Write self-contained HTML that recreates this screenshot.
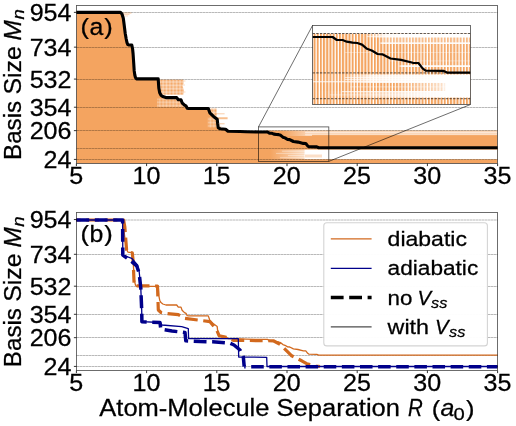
<!DOCTYPE html>
<html><head><meta charset="utf-8"><title>Basis size vs atom-molecule separation</title>
<style>html,body{margin:0;padding:0;background:#fff}svg{display:block;will-change:transform}text{font-family:"Liberation Sans",sans-serif;fill:#000;stroke:#000;stroke-width:0.25px}</style>
</head><body>
<svg width="516" height="426" viewBox="0 0 516 426">
<rect width="516" height="426" fill="#fff"/>
<clipPath id="ct"><rect x="76.5" y="5.5" width="421.0" height="158.0"/></clipPath>
<defs>
<linearGradient id="g1" x1="283" x2="312" y1="0" y2="0" gradientUnits="userSpaceOnUse"><stop offset="0" stop-color="#fff" stop-opacity="0"/><stop offset="0.75" stop-color="#fff" stop-opacity="0.45"/><stop offset="0.8" stop-color="#fff" stop-opacity="0.55"/><stop offset="1" stop-color="#fff" stop-opacity="0.55"/></linearGradient>
<linearGradient id="g2" x1="270" x2="318" y1="0" y2="0" gradientUnits="userSpaceOnUse"><stop offset="0" stop-color="#fff" stop-opacity="0"/><stop offset="0.7" stop-color="#fff" stop-opacity="0.6"/><stop offset="0.74" stop-color="#fff" stop-opacity="1"/><stop offset="1" stop-color="#fff" stop-opacity="1"/></linearGradient>
</defs>
<g clip-path="url(#ct)">
<polygon points="76.4,12.4 120.5,12.4 122.0,14.0 123.3,18.2 124.3,26.0 125.2,33.2 126.2,39.0 127.0,42.7 127.8,44.6 129.0,45.0 131.8,45.0 132.6,49.0 133.1,54.0 133.7,63.0 134.2,70.9 134.8,75.0 135.5,77.6 136.5,78.9 158.2,78.9 158.8,88.0 159.7,92.8 161.0,95.2 162.8,96.6 165.9,97.6 176.7,97.6 178.3,99.7 181.0,99.7 182.1,102.8 184.5,105.2 186.0,105.9 187.2,108.3 188.5,108.5 208.3,108.5 209.8,112.8 213.8,116.7 217.2,119.2 217.7,124.0 218.2,127.6 220.2,128.8 225.6,129.2 228.0,131.2 240.0,131.5 246.0,131.7 258.7,132.0 266.7,130.6 497.6,130.6 497.6,163.6 76.4,163.6" fill="#F4A460"/>
<pattern id="hx" x="0" y="0" width="1.42" height="1.42" patternUnits="userSpaceOnUse"><rect width="1.42" height="1.42" fill="#F4A460"/><rect x="0" y="0" width="1.42" height="0.38" fill="#fff" fill-opacity="0.75"/><rect x="0" y="0" width="0.38" height="1.42" fill="#fff" fill-opacity="0.75"/></pattern>
<polygon points="158.5,79.4 183.2,79.4 183.8,83 182.6,86 184,90 183.4,94.7 160,94.7" fill="url(#hx)"/>
<polygon points="208.5,108.4 216.7,108.4 216.7,118 214,116 210,112" fill="url(#hx)"/>
<line x1="120.5" x2="131.5" y1="13.0" y2="13.0" stroke="#F4A460" stroke-opacity="0.7" stroke-width="0.9"/>
<line x1="122" x2="129.5" y1="14.6" y2="14.6" stroke="#F4A460" stroke-opacity="0.55" stroke-width="0.8"/>
<line x1="123" x2="128" y1="16.0" y2="16.0" stroke="#F4A460" stroke-opacity="0.4" stroke-width="0.8"/>
<line x1="216" x2="224.6" y1="113.8" y2="113.8" stroke="#F4A460" stroke-opacity="0.6" stroke-width="0.9"/>
<line x1="216" x2="227.6" y1="118.3" y2="118.3" stroke="#F4A460" stroke-opacity="0.7" stroke-width="2.0"/>
<line x1="218" x2="224.6" y1="123.8" y2="123.8" stroke="#F4A460" stroke-opacity="0.6" stroke-width="1.0"/>
<line x1="218" x2="221.5" y1="126.4" y2="126.4" stroke="#F4A460" stroke-opacity="0.5" stroke-width="0.8"/>
<line x1="183" x2="185.5" y1="81" y2="81" stroke="#F4A460" stroke-opacity="0.5" stroke-width="0.8"/>
<line x1="183" x2="185" y1="85" y2="85" stroke="#F4A460" stroke-opacity="0.5" stroke-width="0.8"/>
<line x1="183" x2="185.5" y1="92" y2="92" stroke="#F4A460" stroke-opacity="0.5" stroke-width="0.8"/>
<pattern id="hy" x="0" y="0" width="1.42" height="1.42" patternUnits="userSpaceOnUse"><rect width="1.42" height="1.42" fill="#F4A460"/><rect x="0" y="0" width="1.42" height="0.36" fill="#fff" fill-opacity="0.6"/><rect x="0" y="0" width="0.36" height="1.42" fill="#fff" fill-opacity="0.6"/></pattern>
<polygon points="157,98.5 176.5,98.5 179,100.8 181.7,102.2 183,104.3 184.5,106.5 185,107 157,107" fill="url(#hy)"/>
<polygon points="207.8,117 215,117 216.5,119 217.3,127.6 207.8,127.6" fill="url(#hy)"/>
<rect x="283" y="130.6" width="29" height="5.4" fill="url(#g1)"/>
<rect x="312" y="130.6" width="186" height="4.2" fill="#fff" fill-opacity="0.55"/>
<rect x="270" y="149.6" width="48" height="9.6" fill="url(#g2)"/>
<rect x="318" y="149.6" width="180" height="9.6" fill="#fff"/>
<line x1="305" x2="498" y1="132.6" y2="132.6" stroke="#fff" stroke-opacity="0.6" stroke-width="0.8"/>
<line x1="305" x2="498" y1="134.7" y2="134.7" stroke="#fff" stroke-opacity="0.55" stroke-width="0.8"/>
<line x1="282" x2="318" y1="151.2" y2="151.2" stroke="#fff" stroke-opacity="0.5" stroke-width="0.8"/>
<line x1="276" x2="318" y1="153.4" y2="153.4" stroke="#fff" stroke-opacity="0.45" stroke-width="0.8"/>
<line x1="288" x2="318" y1="155.6" y2="155.6" stroke="#fff" stroke-opacity="0.5" stroke-width="0.8"/>
<line x1="280" x2="318" y1="157.6" y2="157.6" stroke="#fff" stroke-opacity="0.4" stroke-width="0.8"/>
<line x1="305" x2="322" y1="156" y2="156" stroke="#F4A460" stroke-opacity="0.35" stroke-width="3"/>
</g>
<line x1="76.5" x2="497.5" y1="12.5" y2="12.5" stroke="#000" stroke-opacity="0.5" stroke-width="0.55" stroke-dasharray="2.65 0.35"/>
<line x1="76.5" x2="497.5" y1="47.5" y2="47.5" stroke="#000" stroke-opacity="0.5" stroke-width="0.55" stroke-dasharray="2.65 0.35"/>
<line x1="76.5" x2="497.5" y1="79.5" y2="79.5" stroke="#000" stroke-opacity="0.5" stroke-width="0.55" stroke-dasharray="2.65 0.35"/>
<line x1="76.5" x2="497.5" y1="107.5" y2="107.5" stroke="#000" stroke-opacity="0.5" stroke-width="0.55" stroke-dasharray="2.65 0.35"/>
<line x1="76.5" x2="497.5" y1="130.5" y2="130.5" stroke="#000" stroke-opacity="0.5" stroke-width="0.55" stroke-dasharray="2.65 0.35"/>
<line x1="76.5" x2="497.5" y1="148.5" y2="148.5" stroke="#000" stroke-opacity="0.5" stroke-width="0.55" stroke-dasharray="2.65 0.35"/>
<line x1="76.5" x2="497.5" y1="159.5" y2="159.5" stroke="#000" stroke-opacity="0.5" stroke-width="0.55" stroke-dasharray="2.65 0.35"/>
<polyline points="76.4,12.4 120.5,12.4 122.0,14.0 123.3,18.2 124.3,26.0 125.2,33.2 126.2,39.0 127.0,42.7 127.8,44.6 129.0,45.0 131.8,45.0 132.6,49.0 133.1,54.0 133.7,63.0 134.2,70.9 134.8,75.0 135.5,77.6 136.5,78.9 158.2,78.9 158.8,88.0 159.7,92.8 161.0,95.2 162.8,96.6 165.9,97.6 176.7,97.6 178.3,99.7 181.0,99.7 182.1,102.8 184.5,105.2 186.0,105.9 187.2,108.3 188.5,108.5 208.3,108.5 209.8,112.8 213.8,116.7 217.2,119.2 217.7,124.0 218.2,127.6 220.2,128.8 225.6,129.2 228.0,131.2 240.0,131.5 246.0,131.7 258.7,132.0 267.6,132.0 269.5,133.3 272.1,133.3 273.9,134.1 276.5,134.5 278.6,134.6 280.7,135.3 282.9,137.2 285.0,137.9 287.6,139.5 289.7,139.6 293.4,141.5 298.0,142.1 303.3,143.4 305.8,143.5 307.7,145.9 309.0,146.8 316.8,146.9 318.7,147.7 328.9,147.7 497.6,147.7" fill="none" stroke="#000" stroke-width="3.1" stroke-linejoin="round"/>
<rect x="258.5" y="126.9" width="70.3" height="34.5" fill="none" stroke="#000" stroke-opacity="0.68" stroke-width="0.85"/>
<line x1="258.5" y1="126.9" x2="312.5" y2="25.5" stroke="#000" stroke-opacity="0.68" stroke-width="0.85"/>
<line x1="328.8" y1="161.4" x2="470.5" y2="104.5" stroke="#000" stroke-opacity="0.68" stroke-width="0.85"/>
<clipPath id="ci"><rect x="312.5" y="25.5" width="158.0" height="79.0"/></clipPath>
<pattern id="st" x="313.55" y="0" width="3.176" height="10" patternUnits="userSpaceOnUse"><rect x="0" y="0" width="2.0" height="10" fill="#F4A460"/></pattern>
<rect x="312.5" y="25.5" width="158.0" height="79.0" fill="#fff"/>
<g clip-path="url(#ci)">
<rect x="312.5" y="33.6" width="158.0" height="70.9" fill="url(#st)"/>
<linearGradient id="bA" x1="313" x2="471" y1="0" y2="0" gradientUnits="userSpaceOnUse"><stop offset="0.000" stop-color="#fff" stop-opacity="0"/><stop offset="0.329" stop-color="#fff" stop-opacity="0"/><stop offset="0.456" stop-color="#fff" stop-opacity="0.9"/><stop offset="0.551" stop-color="#fff" stop-opacity="1"/><stop offset="1.000" stop-color="#fff" stop-opacity="1"/></linearGradient>
<rect x="312.5" y="33.9" width="158.0" height="3.70" fill="url(#bA)"/>
<linearGradient id="bB" x1="313" x2="471" y1="0" y2="0" gradientUnits="userSpaceOnUse"><stop offset="0.000" stop-color="#fff" stop-opacity="0"/><stop offset="0.424" stop-color="#fff" stop-opacity="0"/><stop offset="0.449" stop-color="#fff" stop-opacity="0.3"/><stop offset="1.000" stop-color="#fff" stop-opacity="0.25"/></linearGradient>
<rect x="312.5" y="37.6" width="158.0" height="4.70" fill="url(#bB)"/>
<linearGradient id="bC" x1="313" x2="471" y1="0" y2="0" gradientUnits="userSpaceOnUse"><stop offset="0.000" stop-color="#fff" stop-opacity="0"/><stop offset="0.418" stop-color="#fff" stop-opacity="0"/><stop offset="0.437" stop-color="#fff" stop-opacity="0.9"/><stop offset="1.000" stop-color="#fff" stop-opacity="0.95"/></linearGradient>
<rect x="312.5" y="42.3" width="158.0" height="1.70" fill="url(#bC)"/>
<linearGradient id="bD" x1="313" x2="471" y1="0" y2="0" gradientUnits="userSpaceOnUse"><stop offset="0.000" stop-color="#fff" stop-opacity="0"/><stop offset="0.551" stop-color="#fff" stop-opacity="0"/><stop offset="0.677" stop-color="#fff" stop-opacity="0.08"/><stop offset="1.000" stop-color="#fff" stop-opacity="0.08"/></linearGradient>
<rect x="312.5" y="44.0" width="158.0" height="21.20" fill="url(#bD)"/>
<linearGradient id="bE" x1="313" x2="471" y1="0" y2="0" gradientUnits="userSpaceOnUse"><stop offset="0.000" stop-color="#fff" stop-opacity="0"/><stop offset="0.538" stop-color="#fff" stop-opacity="0"/><stop offset="0.563" stop-color="#fff" stop-opacity="0.9"/><stop offset="1.000" stop-color="#fff" stop-opacity="0.95"/></linearGradient>
<rect x="312.5" y="65.2" width="158.0" height="1.80" fill="url(#bE)"/>
<linearGradient id="bG" x1="313" x2="471" y1="0" y2="0" gradientUnits="userSpaceOnUse"><stop offset="0.000" stop-color="#fff" stop-opacity="0.05"/><stop offset="0.203" stop-color="#fff" stop-opacity="0.1"/><stop offset="0.373" stop-color="#fff" stop-opacity="0.8"/><stop offset="0.551" stop-color="#fff" stop-opacity="0.9"/><stop offset="0.835" stop-color="#fff" stop-opacity="1"/><stop offset="1.000" stop-color="#fff" stop-opacity="1"/></linearGradient>
<rect x="312.5" y="74.5" width="158.0" height="8.50" fill="url(#bG)"/>
<linearGradient id="bH" x1="313" x2="471" y1="0" y2="0" gradientUnits="userSpaceOnUse"><stop offset="0.000" stop-color="#fff" stop-opacity="0"/><stop offset="0.519" stop-color="#fff" stop-opacity="0.0"/><stop offset="0.677" stop-color="#fff" stop-opacity="0.35"/><stop offset="0.823" stop-color="#fff" stop-opacity="0.65"/><stop offset="0.842" stop-color="#fff" stop-opacity="1"/><stop offset="1.000" stop-color="#fff" stop-opacity="1"/></linearGradient>
<rect x="312.5" y="83.0" width="158.0" height="8.00" fill="url(#bH)"/>
<linearGradient id="bI" x1="313" x2="471" y1="0" y2="0" gradientUnits="userSpaceOnUse"><stop offset="0.000" stop-color="#fff" stop-opacity="0"/><stop offset="0.184" stop-color="#fff" stop-opacity="0.1"/><stop offset="0.424" stop-color="#fff" stop-opacity="0.5"/><stop offset="0.677" stop-color="#fff" stop-opacity="0.9"/><stop offset="0.835" stop-color="#fff" stop-opacity="1"/><stop offset="1.000" stop-color="#fff" stop-opacity="1"/></linearGradient>
<rect x="312.5" y="91.0" width="158.0" height="6.60" fill="url(#bI)"/>
<rect x="313" y="81.3" width="158" height="0.9" fill="#fff" fill-opacity="0.9"/>
<rect x="342" y="91.2" width="129" height="0.9" fill="#fff" fill-opacity="0.8"/>
<rect x="345" y="77.2" width="126" height="0.8" fill="#fff" fill-opacity="0.7"/>
<rect x="345" y="79.2" width="126" height="0.8" fill="#fff" fill-opacity="0.7"/>
<rect x="350" y="86.5" width="121" height="0.8" fill="#fff" fill-opacity="0.5"/>
<rect x="330" y="94.5" width="141" height="0.8" fill="#fff" fill-opacity="0.5"/>
<rect x="345" y="52" width="126" height="0.8" fill="#fff" fill-opacity="0.4"/>
<rect x="390" y="60.5" width="81" height="0.8" fill="#fff" fill-opacity="0.4"/>
<rect x="367" y="36.2" width="104" height="0.8" fill="#fff" fill-opacity="0.6"/>
<line x1="312.5" x2="470.5" y1="33.50" y2="33.50" stroke="#000" stroke-opacity="0.7" stroke-width="0.9" stroke-dasharray="2.4 1.3"/>
<line x1="312.5" x2="470.5" y1="72.90" y2="72.90" stroke="#000" stroke-opacity="0.7" stroke-width="0.9" stroke-dasharray="2.4 1.3"/>
<line x1="312.5" x2="470.5" y1="98.69" y2="98.69" stroke="#000" stroke-opacity="0.7" stroke-width="0.9" stroke-dasharray="2.4 1.3"/>
<polyline points="312.5,37.0 332.6,37.0 336.8,40.0 342.6,40.0 346.7,41.7 352.6,42.7 357.3,43.0 362.0,44.6 367.0,48.8 371.7,50.5 377.6,54.0 382.3,54.3 390.5,58.5 401.0,59.9 412.8,62.8 418.4,63.0 422.8,68.6 425.7,70.6 443.3,70.8 447.5,72.7 470.5,72.7" fill="none" stroke="#000" stroke-width="2.2" stroke-linejoin="round"/>
</g>
<rect x="312.5" y="25.5" width="158.0" height="79.0" fill="none" stroke="#000" stroke-opacity="0.68" stroke-width="0.85"/>
<rect x="76.5" y="5.5" width="421.0" height="158.0" fill="none" stroke="#000" stroke-opacity="0.68" stroke-width="0.85"/>
<line x1="76.5" x2="497.5" y1="220.0" y2="220.0" stroke="#000" stroke-opacity="0.5" stroke-width="0.55" stroke-dasharray="2.65 0.35"/>
<line x1="76.5" x2="497.5" y1="254.5" y2="254.5" stroke="#000" stroke-opacity="0.5" stroke-width="0.55" stroke-dasharray="2.65 0.35"/>
<line x1="76.5" x2="497.5" y1="286.5" y2="286.5" stroke="#000" stroke-opacity="0.5" stroke-width="0.55" stroke-dasharray="2.65 0.35"/>
<line x1="76.5" x2="497.5" y1="314.5" y2="314.5" stroke="#000" stroke-opacity="0.5" stroke-width="0.55" stroke-dasharray="2.65 0.35"/>
<line x1="76.5" x2="497.5" y1="337.5" y2="337.5" stroke="#000" stroke-opacity="0.5" stroke-width="0.55" stroke-dasharray="2.65 0.35"/>
<line x1="76.5" x2="497.5" y1="355.5" y2="355.5" stroke="#000" stroke-opacity="0.5" stroke-width="0.55" stroke-dasharray="2.65 0.35"/>
<line x1="76.5" x2="497.5" y1="366.5" y2="366.5" stroke="#000" stroke-opacity="0.5" stroke-width="0.55" stroke-dasharray="2.65 0.35"/>
<polyline points="76.4,220.0 123.6,220.0 124.8,226.7 126.6,250.0 127.5,252.3 132.3,252.8 133.2,262.0 134.2,285.8 157.5,286.0 158.3,310.0 161.0,312.5 165.8,313.5 178.3,314.7 185.0,318.3 200.0,320.3 210.0,321.7 216.7,330.0 219.2,335.8 226.7,337.5 233.3,340.3 273.3,340.8 280.0,344.2 286.7,350.8 291.7,355.8 301.7,360.8 306.7,363.7 315.8,366.0 320.0,366.5" fill="none" stroke="#D2691E" stroke-width="3.2" stroke-dasharray="12.8 5.6" stroke-dashoffset="8.6" stroke-linejoin="round"/>
<polyline points="76.4,219.8 120.5,219.8 122.0,221.4 123.3,225.6 124.3,233.4 125.2,240.6 126.2,246.4 127.0,250.1 127.8,252.0 129.0,252.4 131.8,252.4 132.6,256.4 133.1,261.4 133.7,270.4 134.2,278.3 134.8,282.4 135.5,285.0 136.5,286.3 158.2,286.3 158.8,295.4 159.7,300.2 161.0,302.6 162.8,304.0 165.9,305.0 176.7,305.0 178.3,307.1 181.0,307.1 182.1,310.2 184.5,312.6 186.0,313.3 187.2,315.7 188.5,315.9 208.3,315.9 209.8,320.2 213.8,324.1 217.2,326.6 217.7,331.4 218.2,335.0 220.2,336.2 225.6,336.6 228.0,338.6 240.0,338.9 246.0,339.1 258.7,339.4 267.6,339.4 269.5,340.7 272.1,340.7 273.9,341.5 276.5,341.9 278.6,342.0 280.7,342.7 282.9,344.6 285.0,345.3 287.6,346.9 289.7,347.0 293.4,348.9 298.0,349.5 303.3,350.8 305.8,350.9 307.7,353.3 309.0,354.2 316.8,354.3 318.7,355.1 328.9,355.1 497.6,355.1" fill="none" stroke="#D2691E" stroke-width="1.3" stroke-linejoin="round"/>
<polyline points="76.4,220.0 122.6,220.0 122.8,255.0 130.8,260.8 136.7,265.8 139.2,273.3 140.8,288.3 141.7,310.0 141.9,321.7 160.0,322.5 160.8,329.2 172.0,331.0 185.0,332.5 185.8,340.8 200.0,341.5 212.5,341.8 230.0,343.3 234.0,345.0 240.0,350.0 243.3,356.7 244.2,366.5" fill="none" stroke="#00008B" stroke-width="3.5" stroke-dasharray="12.8 5.6" stroke-linejoin="round"/>
<line x1="244.2" x2="497.5" y1="366.7" y2="366.7" stroke="#00008B" stroke-width="3.6" stroke-dasharray="12.55 5.58" stroke-dashoffset="11.13"/>
<polyline points="76.4,220.0 122.6,220.0 122.8,255.0 131.7,258.3 137.5,265.0 139.2,271.7 140.8,288.3 141.7,310.0 141.9,321.7 160.0,322.5 162.0,325.0 181.7,326.7 188.3,328.7 188.6,338.5 238.3,338.7 238.7,357.0 266.7,357.3 267.0,366.5 497.6,366.5" fill="none" stroke="#00008B" stroke-width="1.3" stroke-linejoin="round"/>
<rect x="76.5" y="212.5" width="421.0" height="158.0" fill="none" stroke="#000" stroke-opacity="0.68" stroke-width="0.85"/>
<line x1="73.9" x2="76.5" y1="12.37" y2="12.37" stroke="#000" stroke-width="0.8"/>
<line x1="73.9" x2="76.5" y1="47.15" y2="47.15" stroke="#000" stroke-width="0.8"/>
<line x1="73.9" x2="76.5" y1="79.09" y2="79.09" stroke="#000" stroke-width="0.8"/>
<line x1="73.9" x2="76.5" y1="107.23" y2="107.23" stroke="#000" stroke-width="0.8"/>
<line x1="73.9" x2="76.5" y1="130.63" y2="130.63" stroke="#000" stroke-width="0.8"/>
<line x1="73.9" x2="76.5" y1="159.41" y2="159.41" stroke="#000" stroke-width="0.8"/>
<line x1="76.40" x2="76.40" y1="163.5" y2="166.1" stroke="#000" stroke-width="0.8"/>
<line x1="146.60" x2="146.60" y1="163.5" y2="166.1" stroke="#000" stroke-width="0.8"/>
<line x1="216.80" x2="216.80" y1="163.5" y2="166.1" stroke="#000" stroke-width="0.8"/>
<line x1="287.00" x2="287.00" y1="163.5" y2="166.1" stroke="#000" stroke-width="0.8"/>
<line x1="357.20" x2="357.20" y1="163.5" y2="166.1" stroke="#000" stroke-width="0.8"/>
<line x1="427.40" x2="427.40" y1="163.5" y2="166.1" stroke="#000" stroke-width="0.8"/>
<line x1="497.60" x2="497.60" y1="163.5" y2="166.1" stroke="#000" stroke-width="0.8"/>
<line x1="73.9" x2="76.5" y1="219.56" y2="219.56" stroke="#000" stroke-width="0.8"/>
<line x1="73.9" x2="76.5" y1="254.30" y2="254.30" stroke="#000" stroke-width="0.8"/>
<line x1="73.9" x2="76.5" y1="286.20" y2="286.20" stroke="#000" stroke-width="0.8"/>
<line x1="73.9" x2="76.5" y1="314.30" y2="314.30" stroke="#000" stroke-width="0.8"/>
<line x1="73.9" x2="76.5" y1="337.67" y2="337.67" stroke="#000" stroke-width="0.8"/>
<line x1="73.9" x2="76.5" y1="366.41" y2="366.41" stroke="#000" stroke-width="0.8"/>
<line x1="76.40" x2="76.40" y1="370.5" y2="373.1" stroke="#000" stroke-width="0.8"/>
<line x1="146.60" x2="146.60" y1="370.5" y2="373.1" stroke="#000" stroke-width="0.8"/>
<line x1="216.80" x2="216.80" y1="370.5" y2="373.1" stroke="#000" stroke-width="0.8"/>
<line x1="287.00" x2="287.00" y1="370.5" y2="373.1" stroke="#000" stroke-width="0.8"/>
<line x1="357.20" x2="357.20" y1="370.5" y2="373.1" stroke="#000" stroke-width="0.8"/>
<line x1="427.40" x2="427.40" y1="370.5" y2="373.1" stroke="#000" stroke-width="0.8"/>
<line x1="497.60" x2="497.60" y1="370.5" y2="373.1" stroke="#000" stroke-width="0.8"/>
<text transform="translate(71.50,20.97) scale(1.13,1.05)" font-size="22.2" text-anchor="end">954</text>
<text transform="translate(71.50,55.75) scale(1.13,1.05)" font-size="22.2" text-anchor="end">734</text>
<text transform="translate(71.50,87.69) scale(1.13,1.05)" font-size="22.2" text-anchor="end">532</text>
<text transform="translate(71.50,115.83) scale(1.13,1.05)" font-size="22.2" text-anchor="end">354</text>
<text transform="translate(71.50,139.23) scale(1.13,1.05)" font-size="22.2" text-anchor="end">206</text>
<text transform="translate(71.50,168.01) scale(1.13,1.05)" font-size="22.2" text-anchor="end">24</text>
<text transform="translate(71.50,228.16) scale(1.13,1.05)" font-size="22.2" text-anchor="end">954</text>
<text transform="translate(71.50,262.90) scale(1.13,1.05)" font-size="22.2" text-anchor="end">734</text>
<text transform="translate(71.50,294.80) scale(1.13,1.05)" font-size="22.2" text-anchor="end">532</text>
<text transform="translate(71.50,322.90) scale(1.13,1.05)" font-size="22.2" text-anchor="end">354</text>
<text transform="translate(71.50,346.27) scale(1.13,1.05)" font-size="22.2" text-anchor="end">206</text>
<text transform="translate(71.50,375.01) scale(1.13,1.05)" font-size="22.2" text-anchor="end">24</text>
<text transform="translate(76.20,184.00) scale(1.13,1.04)" font-size="22.2" text-anchor="middle">5</text>
<text transform="translate(146.40,184.00) scale(1.13,1.04)" font-size="22.2" text-anchor="middle">10</text>
<text transform="translate(216.60,184.00) scale(1.13,1.04)" font-size="22.2" text-anchor="middle">15</text>
<text transform="translate(286.80,184.00) scale(1.13,1.04)" font-size="22.2" text-anchor="middle">20</text>
<text transform="translate(357.00,184.00) scale(1.13,1.04)" font-size="22.2" text-anchor="middle">25</text>
<text transform="translate(427.20,184.00) scale(1.13,1.04)" font-size="22.2" text-anchor="middle">30</text>
<text transform="translate(497.40,184.00) scale(1.13,1.04)" font-size="22.2" text-anchor="middle">35</text>
<text transform="translate(76.20,391.30) scale(1.13,1.04)" font-size="22.2" text-anchor="middle">5</text>
<text transform="translate(146.40,391.30) scale(1.13,1.04)" font-size="22.2" text-anchor="middle">10</text>
<text transform="translate(216.60,391.30) scale(1.13,1.04)" font-size="22.2" text-anchor="middle">15</text>
<text transform="translate(286.80,391.30) scale(1.13,1.04)" font-size="22.2" text-anchor="middle">20</text>
<text transform="translate(357.00,391.30) scale(1.13,1.04)" font-size="22.2" text-anchor="middle">25</text>
<text transform="translate(427.20,391.30) scale(1.13,1.04)" font-size="22.2" text-anchor="middle">30</text>
<text transform="translate(497.40,391.30) scale(1.13,1.04)" font-size="22.2" text-anchor="middle">35</text>
<text transform="translate(80.50,33.80) scale(1.15,1.0)" font-size="22.2" text-anchor="start">(</text>
<text transform="translate(89.40,35.00) scale(1.12,1.08)" font-size="22.2" text-anchor="start">a</text>
<text transform="translate(104.20,33.80) scale(1.15,1.0)" font-size="22.2" text-anchor="start">)</text>
<text transform="translate(80.50,241.00) scale(1.15,1.0)" font-size="22.2" text-anchor="start">(</text>
<text transform="translate(89.40,242.20) scale(1.12,1.08)" font-size="22.2" text-anchor="start">b</text>
<text transform="translate(104.20,241.00) scale(1.15,1.0)" font-size="22.2" text-anchor="start">)</text>
<text transform="translate(99.30,416.40) scale(1.15,1.1)" font-size="22.2" text-anchor="start">Atom-Molecule Separation</text>
<text transform="translate(408.00,416.40) scale(0.92,1.1)" font-size="22.2" text-anchor="start" font-style="italic">R</text>
<text transform="translate(431.80,415.90) scale(1.15,0.96)" font-size="22.2" text-anchor="start">(</text>
<text transform="translate(440.60,416.40) scale(1.12,1.1)" font-size="22.2" text-anchor="start" font-style="italic">a</text>
<text transform="translate(453.40,420.00) scale(1.25,1.04)" font-size="16.2" text-anchor="start">0</text>
<text transform="translate(466.00,415.90) scale(1.15,0.96)" font-size="22.2" text-anchor="start">)</text>
<text transform="translate(20.80,160.00) rotate(-90) scale(1.09,1.1)" font-size="22.2" text-anchor="start">Basis</text>
<text transform="translate(20.80,94.60) rotate(-90) scale(1.12,1.1)" font-size="22.2" text-anchor="start">Size</text>
<text transform="translate(20.80,40.40) rotate(-90) scale(1.1,1.1)" font-size="22.2" text-anchor="start" font-style="italic">M</text>
<text transform="translate(24.00,19.60) rotate(-90) scale(1.2,1.05)" font-size="15.5" text-anchor="start" font-style="italic">n</text>
<text transform="translate(20.80,367.20) rotate(-90) scale(1.09,1.1)" font-size="22.2" text-anchor="start">Basis</text>
<text transform="translate(20.80,301.80) rotate(-90) scale(1.12,1.1)" font-size="22.2" text-anchor="start">Size</text>
<text transform="translate(20.80,247.60) rotate(-90) scale(1.1,1.1)" font-size="22.2" text-anchor="start" font-style="italic">M</text>
<text transform="translate(24.00,226.80) rotate(-90) scale(1.2,1.05)" font-size="15.5" text-anchor="start" font-style="italic">n</text>
<rect x="323.8" y="222.7" width="163.6" height="123.2" rx="3" ry="3" fill="#fff" fill-opacity="0.97" stroke="#d4d4d4" stroke-width="1.1"/>
<line x1="330.8" x2="371.6" y1="238.9" y2="238.9" stroke="#D2691E" stroke-width="1.3"/>
<line x1="330.8" x2="371.6" y1="268.3" y2="268.3" stroke="#00008B" stroke-width="1.3"/>
<line x1="330.8" x2="371.6" y1="297.5" y2="297.5" stroke="#000" stroke-width="3.5" stroke-dasharray="12.8 5.6"/>
<line x1="330.8" x2="371.6" y1="326.9" y2="326.9" stroke="#000" stroke-opacity="0.7" stroke-width="1.3"/>
<text transform="translate(387.60,245.80) scale(1.185,1.08)" font-size="19.44" text-anchor="start">diabatic</text>
<text transform="translate(387.60,275.40) scale(1.165,1.08)" font-size="19.44" text-anchor="start">adiabatic</text>
<text transform="translate(387.60,304.80) scale(1.15,1.08)" font-size="19.44" text-anchor="start">no</text>
<text transform="translate(387.60,334.30) scale(1.2,1.08)" font-size="19.44" text-anchor="start">with</text>
<text transform="translate(417.60,304.80) scale(1.05,1.08)" font-size="19.44" text-anchor="start" font-style="italic">V</text>
<text transform="translate(431.00,307.80) scale(1.2,1.08)" font-size="13.6" text-anchor="start" font-style="italic">ss</text>
<text transform="translate(435.00,334.30) scale(1.05,1.08)" font-size="19.44" text-anchor="start" font-style="italic">V</text>
<text transform="translate(449.00,337.40) scale(1.2,1.08)" font-size="13.6" text-anchor="start" font-style="italic">ss</text>
</svg>
</body></html>
